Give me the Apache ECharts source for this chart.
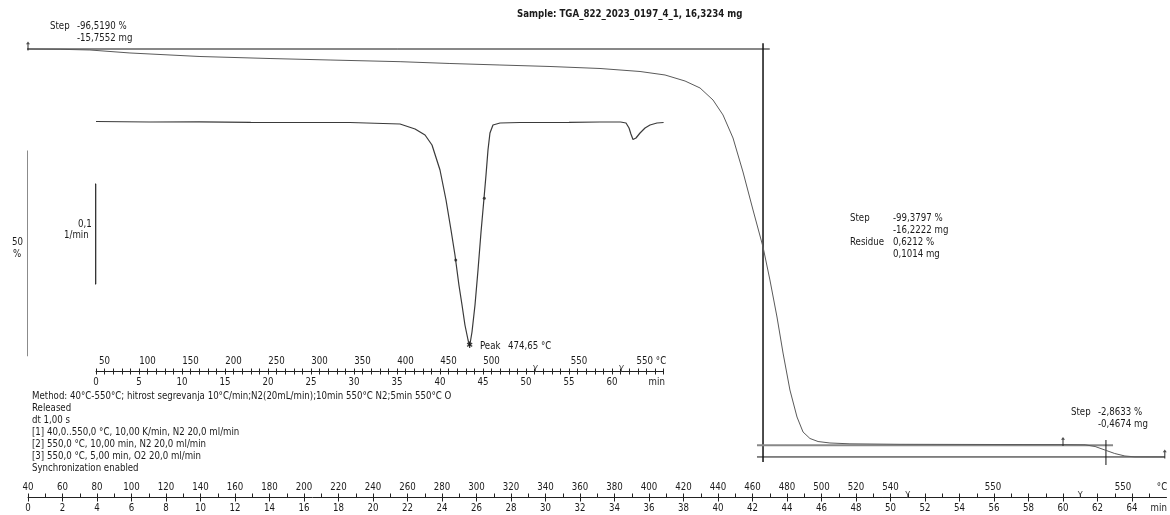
<!DOCTYPE html>
<html>
<head>
<meta charset="utf-8">
<script src="https://cdn.jsdelivr.net/npm/echarts@6/dist/echarts.min.js"></script>
<style>
  html, body { margin: 0; padding: 0; background: #fff; }
  #chart { width: 1170px; height: 515px; }
</style>
</head>
<body>
<div id="chart"></div>
<script>
// TG curve: time (min) vs. mass (%)
const tgTime = [0, 1.86, 3.59, 5.91, 9.97, 14.03, 17.51, 21.57, 24.46, 27.36, 30.26, 33.16, 35.48, 36.93,
  38.09, 38.96, 39.71, 40.29, 40.87, 41.45, 42.03, 42.61, 43.01, 43.42, 43.77, 44.17, 44.58, 44.93,
  45.33, 45.80, 46.49, 47.65, 50.55, 56.35, 60.0, 61.28, 61.86, 62.43, 63.0, 63.59, 64.17, 65.9];
const tgMass = [100, 99.93, 99.76, 99.03, 98.17, 97.68, 97.32, 96.91, 96.47, 96.10, 95.74, 95.25, 94.52, 93.67,
  92.20, 90.50, 87.58, 83.93, 78.32, 70.04, 60.78, 51.77, 43.73, 34.71, 25.94, 16.93, 10.35, 6.70,
  5.12, 4.38, 4.02, 3.82, 3.70, 3.65, 3.63, 3.58, 3.17, 2.31, 1.46, 0.85, 0.64, 0.62];

// DTG curve: time (min) vs. rate (1/min)
const dtgTime = [0, 6.28, 12.0, 18.0, 23.7, 29.5, 35.35, 37.1, 38.26, 39.07, 40.0, 40.7, 41.28, 41.74,
  42.2, 42.56, 42.9, 43.26, 43.45, 43.72, 44.07, 44.42, 44.77, 45.12, 45.35, 45.58, 45.81, 46.16,
  46.98, 49.3, 55.0, 58.6, 61.0, 61.63, 61.98, 62.2, 62.44, 62.79, 63.26, 63.84, 64.42, 65.23, 66.0];
const dtgRate = [0, -0.0005, -0.0003, -0.0008, -0.001, -0.001, -0.0025, -0.0075, -0.0135, -0.0235, -0.0485, -0.0785, -0.1085, -0.1335,
  -0.1635, -0.1835, -0.2035, -0.2185, -0.2245, -0.2105, -0.1835, -0.1485, -0.1105, -0.0765, -0.0535, -0.0285, -0.0115, -0.0035,
  -0.0015, -0.001, -0.0008, -0.0005, -0.0005, -0.0015, -0.0065, -0.0125, -0.018, -0.0165, -0.0115, -0.0065, -0.0035, -0.0015, -0.001];

// step evaluation lines on the TG curve (min, %)
const stepTopLine = [[-0.37, 100], [43.0, 100]];
const stepVertical1 = [[42.61, 101.4], [42.61, -0.6]];
const stepPlateau = [[42.26, 3.48], [62.9, 3.48]];
const stepResidue = [[42.26, 0.62], [65.9, 0.62]];
const stepVertical2 = [[62.49, 4.75], [62.49, -1.34]];
const tgMarkers = [[0, 100], [60.0, 3.63], [65.9, 0.62]];

// DTG evaluation points
const dtgDots = [[41.83, -0.1385], [45.15, -0.0768]];
const dtgPeak = [[43.45, -0.2245]];

// scale bars: 50 % on TG, 0.1 1/min on DTG
const tgScaleBar = [[-0.25, 25.2], [-0.06, 25.2], [-0.06, 75.2], [-0.25, 75.2]];
const dtgScaleBar = [[-0.45, -0.0625], [-0.035, -0.0625], [-0.035, -0.1625], [-0.45, -0.1625]];

// main axis labels
const mainTimePos = [0, 2, 4, 6, 8, 10, 12, 14, 16, 18, 20, 22, 24, 26, 28, 30, 32, 34, 36, 38, 40, 42, 44, 46, 48, 50, 52, 54, 56, 58, 60, 62, 64, 65.55];
const mainTimeLabels = ['0', '2', '4', '6', '8', '10', '12', '14', '16', '18', '20', '22', '24', '26', '28', '30', '32', '34', '36', '38', '40', '42', '44', '46', '48', '50', '52', '54', '56', '58', '60', '62', '64', 'min'];
const mainTempPos = [0, 2, 4, 6, 8, 10, 12, 14, 16, 18, 20, 22, 24, 26, 28, 30, 32, 34, 36, 38, 40, 42, 44, 46, 48, 50, 55.94, 63.48, 65.74];
const mainTempLabels = ['40', '60', '80', '100', '120', '140', '160', '180', '200', '220', '240', '260', '280', '300', '320', '340', '360', '380', '400', '420', '440', '460', '480', '500', '520', '540', '550', '550', '°C'];
const segmentMarks = [51, 61];

// inner (DTG) axis labels
const innerTimePos = [0, 5, 10, 15, 20, 25, 30, 35, 40, 45, 50, 55, 60, 65.2];
const innerTimeLabels = ['0', '5', '10', '15', '20', '25', '30', '35', '40', '45', '50', '55', '60', 'min'];
const innerTempPos = [1, 6, 11, 16, 21, 26, 31, 36, 41, 46, 56.16, 63.8, 65.7];
const innerTempLabels = ['50', '100', '150', '200', '250', '300', '350', '400', '450', '500', '550', '550', '°C'];
const innerSegmentMarks = [51.1, 61.1];

const FONT = "'DejaVu Sans Condensed', 'Liberation Sans', sans-serif";
const FS = 9.6;
const TXT = '#1a1a1a';

function zip(a, b) { return a.map((v, i) => [v, b[i]]); }
function lookup(pos, labels) {
  const m = {};
  pos.forEach((p, i) => { m[String(p)] = labels[i]; });
  return (v) => m[String(v)] ?? '';
}
function range(a, b, step) { const r = []; for (let v = a; v <= b + 1e-9; v += step) r.push(v); return r; }

const chart = echarts.init(document.getElementById('chart'));

const lblStyle = { fontFamily: FONT, fontSize: FS, color: TXT };

function axisTrio(grid, offset, timePos, timeLabels, tempPos, tempLabels, marks, downTicks, upTicks, tickLen, max) {
  return [
    {
      type: 'value', gridIndex: grid, min: 0, max: max, position: 'bottom', offset: offset,
      axisLine: { show: true, onZero: false, lineStyle: { color: '#222', width: 1 } },
      axisTick: { show: true, inside: false, length: tickLen, customValues: downTicks, lineStyle: { color: '#222' } },
      axisLabel: { show: true, margin: 6, customValues: timePos, formatter: lookup(timePos, timeLabels), ...lblStyle },
      splitLine: { show: false }
    },
    {
      type: 'value', gridIndex: grid, min: 0, max: max, position: 'bottom', offset: offset,
      axisLine: { show: false, onZero: false },
      axisTick: { show: true, inside: true, length: tickLen, customValues: upTicks, lineStyle: { color: '#222' } },
      axisLabel: { show: true, inside: true, margin: 5, customValues: tempPos, formatter: lookup(tempPos, tempLabels), ...lblStyle },
      splitLine: { show: false }
    },
    {
      type: 'value', gridIndex: grid, min: 0, max: max, position: 'bottom', offset: offset,
      axisLine: { show: false, onZero: false }, axisTick: { show: false },
      axisLabel: { show: true, inside: true, margin: -3, customValues: marks, formatter: () => 'Y', fontFamily: FONT, fontSize: 9, color: '#444' },
      splitLine: { show: false }
    }
  ];
}

const lineSeries = (name, xi, yi, data, color, width) => ({
  name, type: 'line', xAxisIndex: xi, yAxisIndex: yi, data, symbol: 'none', clip: false,
  lineStyle: { color, width }, silent: true, animation: false, z: 3
});

const arrowUp = 'path://M2,0 L4,3 L2.6,3 L2.6,10 L1.4,10 L1.4,3 L0,3 Z';

const text = (x, y, t, opts = {}) => ({
  type: 'text', left: x, top: y - 5.5,
  style: { text: t, fontFamily: FONT, fontSize: FS, fill: TXT, ...opts }
});

const methodLines = [
  'Method: 40°C-550°C; hitrost segrevanja 10°C/min;N2(20mL/min);10min 550°C N2;5min 550°C O',
  'Released',
  'dt 1,00 s',
  '[1] 40,0..550,0 °C, 10,00 K/min, N2 20,0 ml/min',
  '[2] 550,0 °C, 10,00 min, N2 20,0 ml/min',
  '[3] 550,0 °C, 5,00 min, O2 20,0 ml/min',
  'Synchronization enabled'
];

chart.setOption({
  backgroundColor: '#fff',
  animation: false,
  grid: [
    { left: 28, width: 1138.5, top: 49, height: 410.5, containLabel: false, outerBoundsMode: 'none', show: false },
    { left: 96, width: 567.6, top: 111.5, height: 260, containLabel: false, outerBoundsMode: 'none', show: false }
  ],
  xAxis: [
    ...axisTrio(0, 38, mainTimePos, mainTimeLabels, mainTempPos, mainTempLabels, segmentMarks,
      range(0, 64, 2), range(0, 65, 1), 4, 66),
    ...axisTrio(1, 0, innerTimePos, innerTimeLabels, innerTempPos, innerTempLabels, innerSegmentMarks,
      range(0, 66, 1), range(0, 66, 1), 3, 66)
  ],
  yAxis: [
    { type: 'value', gridIndex: 0, min: 0, max: 100, show: false },
    { type: 'value', gridIndex: 1, min: -0.25, max: 0.01, show: false }
  ],
  series: [
    lineSeries('TG step top', 0, 0, stepTopLine, '#111', 1),
    lineSeries('TG step v1', 0, 0, stepVertical1, '#111', 1.5),
    lineSeries('TG plateau', 0, 0, stepPlateau, '#888', 2),
    lineSeries('TG residue', 0, 0, stepResidue, '#111', 1),
    lineSeries('TG step v2', 0, 0, stepVertical2, '#111', 1),
    lineSeries('TG scale', 0, 0, tgScaleBar, '#333', 1.2),
    lineSeries('TG', 0, 0, zip(tgTime, tgMass), '#5a5a5a', 1),
    lineSeries('DTG scale', 3, 1, dtgScaleBar, '#222', 1.2),
    lineSeries('DTG', 3, 1, zip(dtgTime, dtgRate), '#3a3a3a', 1.2),
    {
      type: 'scatter', xAxisIndex: 0, yAxisIndex: 0, data: tgMarkers, symbol: arrowUp,
      symbolSize: [4, 9], symbolOffset: [0, -3], itemStyle: { color: '#222' }, z: 5, silent: true
    },
    {
      type: 'scatter', xAxisIndex: 3, yAxisIndex: 1, data: dtgDots, symbol: 'circle',
      symbolSize: 3, itemStyle: { color: '#222' }, z: 5, silent: true
    },
    {
      type: 'scatter', xAxisIndex: 3, yAxisIndex: 1, data: dtgPeak, symbol: 'circle', symbolSize: 0.5,
      itemStyle: { color: '#222' }, z: 5, silent: true,
      label: {
        show: true, position: 'inside', formatter: '✱',
        fontSize: 9, color: '#111', fontFamily: FONT
      }
    }
  ],
  graphic: [
    text(517, 15, 'Sample: TGA_822_2023_0197_4_1, 16,3234 mg', { fontWeight: 'bold' }),
    text(50, 27, 'Step'),
    text(77, 27, '-96,5190 %'),
    text(77, 39, '-15,7552 mg'),
    text(12, 243, '50'),
    text(13, 255, '%'),
    text(78, 225, '0,1'),
    text(64, 236, '1/min'),
    text(480, 347, 'Peak'),
    text(508, 347, '474,65 °C'),
    text(850, 219, 'Step'),
    text(893, 219, '-99,3797 %'),
    text(893, 231, '-16,2222 mg'),
    text(850, 243, 'Residue'),
    text(893, 243, '0,6212 %'),
    text(893, 255, '0,1014 mg'),
    text(1071, 413, 'Step'),
    text(1098, 413, '-2,8633 %'),
    text(1098, 425, '-0,4674 mg'),
    ...methodLines.map((t, i) => text(32, 397 + 12 * i, t))
  ]
});
</script>
</body>
</html>
